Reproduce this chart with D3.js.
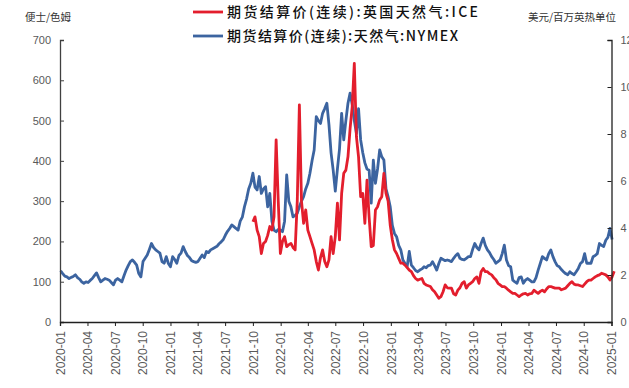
<!DOCTYPE html>
<html>
<head>
<meta charset="utf-8">
<script src="https://cdn.jsdelivr.net/npm/d3@7"></script>
<style>
  html, body { margin: 0; padding: 0; background: #fff; }
  svg { display: block; }
</style>
</head>
<body>
<svg id="chart" width="629" height="388"></svg>
<script>
// ---------------- DATA ----------------
const seriesNames = ["期货结算价(连续):英国天然气:ICE", "期货结算价(连续):天然气:NYMEX"];
const leftUnit = "便士/色姆";
const rightUnit = "美元/百万英热单位";
const leftTicks = [0, 100, 200, 300, 400, 500, 600, 700];
const rightTicks = [0, 2, 4, 6, 8, 10, 12];

// NYMEX Henry Hub, US$/MMBtu, weekly from 2020-01-03
const nymexStart = "2020-01-03";
const nymexValues = [
  2.18,2.06,1.95,1.92,1.85,1.90,1.94,2.01,1.89,1.82,1.71,1.65,1.71,1.68,1.77,1.85,1.97,2.09,1.89,1.71,
  1.78,1.85,1.82,1.78,1.68,1.58,1.78,1.85,1.78,1.71,1.97,2.21,2.40,2.57,2.64,2.54,2.42,2.06,1.92,2.57,
  2.71,2.85,3.09,3.34,3.17,3.07,3.00,2.93,2.57,2.50,2.78,2.49,2.35,2.78,2.66,2.50,2.83,2.93,3.21,3.00,
  2.83,2.74,2.61,2.57,2.54,2.57,2.71,2.85,2.74,3.00,2.95,3.07,3.12,3.17,3.22,3.33,3.41,3.51,3.70,3.86,
  3.98,4.13,4.06,3.98,3.91,4.29,4.46,4.90,5.23,5.66,5.90,6.33,5.74,5.62,6.19,5.47,5.66,5.76,4.90,5.47,
  4.29,3.91,3.84,3.94,3.91,3.84,4.29,6.26,5.14,4.90,4.47,4.54,4.63,4.90,5.14,5.33,5.66,5.90,6.33,6.86,
  7.32,8.74,8.57,8.45,8.88,9.08,9.31,8.40,7.20,6.46,5.57,6.51,7.37,8.88,7.75,8.57,9.31,9.74,9.26,8.57,
  8.02,9.08,7.75,7.20,6.77,6.51,6.46,5.06,6.89,5.90,6.51,7.32,7.03,6.89,5.66,5.33,4.90,4.11,3.77,3.63,
  3.26,3.07,2.64,2.49,2.35,3.00,2.42,2.31,2.19,2.14,2.21,2.26,2.35,2.31,2.40,2.42,2.57,2.40,2.21,2.49,
  2.71,2.66,2.61,2.64,2.61,2.57,2.71,2.83,2.91,2.71,2.66,2.64,2.71,2.78,2.78,3.09,3.34,3.17,3.07,3.34,
  3.57,3.26,3.07,2.95,2.78,2.66,2.50,2.57,2.64,2.91,3.27,2.64,2.40,2.35,1.78,1.71,1.65,1.89,1.92,1.65,
  1.78,1.85,1.78,1.71,1.71,1.89,2.21,2.49,2.78,2.71,2.64,2.91,3.07,2.78,2.57,2.40,2.35,2.23,2.14,2.06,
  2.01,2.14,2.06,2.01,2.14,2.28,2.49,2.57,2.91,2.50,2.50,2.50,2.78,2.83,2.91,3.34,3.26,3.21,3.48,3.60,
  3.98,3.51
];

// ICE UK NBP, pence/therm, weekly from 2021-10-01
const iceStart = "2021-10-01";
const iceValues = [
  249,261,228,212,170,195,200,215,237,228,261,452,300,170,200,212,187,192,195,185,
  179,300,539,300,245,278,228,212,195,179,150,129,160,179,150,137,154,212,170,212,
  295,204,319,369,377,410,480,534,642,460,410,311,319,245,352,261,187,190,278,286,
  303,311,369,319,300,240,204,179,170,158,146,146,141,135,129,125,115,108,104,106,
  108,96,92,90,88,80,75,67,59,63,75,92,85,84,84,70,67,79,85,96,
  100,84,92,96,100,108,112,96,125,133,125,125,120,117,110,105,96,92,88,88,
  84,79,75,71,71,67,63,67,70,71,67,70,71,79,75,71,76,79,75,82,
  88,88,86,84,84,84,80,82,84,90,96,100,94,92,92,90,88,94,100,104,
  104,108,112,115,117,121,119,117,112,104,112,126
];

// ---------------- CHART ----------------
const M = { left: 60, right: 611.5, top: 40, bottom: 322 };
const svg = d3.select("#chart");
const parse = d3.timeParse("%Y-%m-%d");

const x = d3.scaleTime()
  .domain([new Date(2020, 0, 1), new Date(2025, 0, 1)])
  .range([M.left, M.right]);
const yL = d3.scaleLinear().domain([0, 700]).range([M.bottom, M.top]);
const yR = d3.scaleLinear().domain([0, 12]).range([M.bottom, M.top]);

const nymex = nymexValues.map((v, i) => ({ d: d3.timeDay.offset(parse(nymexStart), 7 * i), v }));
const ice = iceValues.map((v, i) => ({ d: d3.timeDay.offset(parse(iceStart), 7 * i), v }));

const RED = "#E31E2D", BLUE = "#3C64A0";
const tickColor = "#595959";
const fontLat = "Arial, 'Liberation Sans', sans-serif";
const fontCJK = "'Noto Sans CJK SC', sans-serif";

// Lines (blue first, red on top)
svg.append("path").datum(nymex)
  .attr("fill", "none").attr("stroke", BLUE).attr("stroke-width", 2.8)
  .attr("stroke-linejoin", "round")
  .attr("d", d3.line().x(d => x(d.d)).y(d => yR(d.v)));
svg.append("path").datum(ice)
  .attr("fill", "none").attr("stroke", RED).attr("stroke-width", 2.8)
  .attr("stroke-linejoin", "round")
  .attr("d", d3.line().x(d => x(d.d)).y(d => yL(d.v)));

// Left axis
const gL = svg.append("g").attr("transform", `translate(${M.left},0)`)
  .call(d3.axisRight(yL).tickValues(leftTicks).tickSize(4).tickFormat(d3.format("d")));
gL.select(".domain").attr("stroke", "#404040").attr("stroke-width", 1.3);
gL.selectAll(".tick line").attr("stroke", "#404040");
gL.selectAll(".tick text").attr("x", -9).attr("text-anchor", "end")
  .attr("fill", tickColor).style("font", `11px ${fontLat}`);

// Right axis
const gR = svg.append("g").attr("transform", `translate(${M.right},0)`)
  .call(d3.axisLeft(yR).tickValues(rightTicks).tickSize(4).tickFormat(d3.format("d")));
gR.select(".domain").attr("stroke", "#202020").attr("stroke-width", 1.3);
gR.selectAll(".tick line").attr("stroke", "#202020");
gR.selectAll(".tick text").attr("x", 9).attr("text-anchor", "start")
  .attr("fill", tickColor).style("font", `11px ${fontLat}`);

// Bottom axis
const xTicks = d3.timeMonth.every(3).range(new Date(2020, 0, 1), new Date(2025, 0, 2));
const gB = svg.append("g").attr("transform", `translate(0,${M.bottom})`)
  .call(d3.axisBottom(x).tickValues(xTicks).tickSize(4).tickFormat(d3.timeFormat("%Y-%m")));
gB.select(".domain").attr("stroke", "#202020").attr("stroke-width", 1.3);
gB.selectAll(".tick line").attr("stroke", "#202020");
gB.selectAll(".tick text")
  .attr("transform", "rotate(-90)")
  .attr("x", -9).attr("y", 0).attr("dy", "0.35em")
  .attr("text-anchor", "end")
  .attr("fill", tickColor).style("font", `12px ${fontLat}`);

// Unit labels
svg.append("text").attr("x", 25).attr("y", 21).text(leftUnit)
  .attr("fill", "#333").style("font", `10.5px ${fontCJK}`);
svg.append("text").attr("x", 528).attr("y", 21).text(rightUnit)
  .attr("fill", "#333").style("font", `10.5px ${fontCJK}`);

// Legend
const legend = [
  { name: seriesNames[0], color: RED, y: 12, w: 251 },
  { name: seriesNames[1], color: BLUE, y: 36, w: 231 }
];
const lg = svg.append("g");
legend.forEach(l => {
  lg.append("line").attr("x1", 193).attr("x2", 223).attr("y1", l.y).attr("y2", l.y)
    .attr("stroke", l.color).attr("stroke-width", 2.8);
  lg.append("text").attr("x", 227).attr("y", l.y).attr("dy", "0.36em")
    .text(l.name).attr("fill", "#111")
    .attr("textLength", l.w).attr("lengthAdjust", "spacing")
    .style("font", `500 14px ${fontCJK}`);
});
</script>
</body>
</html>
